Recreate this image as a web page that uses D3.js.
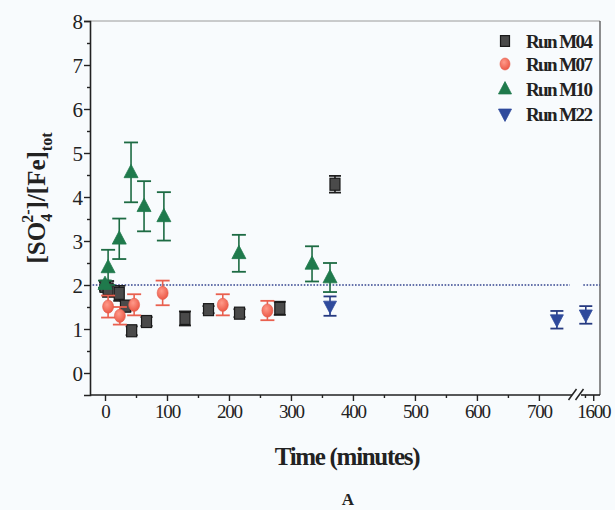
<!DOCTYPE html>
<html><head><meta charset="utf-8">
<script src="https://cdn.jsdelivr.net/npm/d3@7"></script>
<style>
html,body{margin:0;padding:0;background:#f8fbfd;}
svg{display:block;}
text{font-family:"Liberation Serif","DejaVu Serif",serif;fill:#222;}
</style></head>
<body>
<svg id="chart" width="615" height="510"></svg>
<script>
// ---- data ----
const m04Time = [0, 5, 23, 33, 43, 67, 129, 167, 217, 282, 371];
const m04Val  = [1.97, 1.91, 1.81, 1.52, 0.96, 1.17, 1.24, 1.44, 1.36, 1.47, 4.29];
const m04Err  = [0.10, 0.18, 0.17, 0.12, 0.10, 0.10, 0.16, 0.08, 0.09, 0.15, 0.19];

const m07Time = [5, 24, 47, 93, 190, 262];
const m07Val  = [1.51, 1.30, 1.55, 1.82, 1.55, 1.42];
const m07Err  = [0.25, 0.20, 0.24, 0.28, 0.24, 0.22];

const m10Time = [0, 5, 23, 42, 63, 95, 216, 334, 363];
const m10Val  = [2.02, 2.40, 3.05, 4.56, 3.79, 3.56, 2.72, 2.48, 2.17];
const m10Err  = [0.08, 0.40, 0.46, 0.68, 0.57, 0.55, 0.42, 0.40, 0.33];

const m22Time = [363, 729, 1555];
const m22Val  = [1.52, 1.21, 1.32];
const m22Err  = [0.22, 0.20, 0.20];

const seriesNames = ["Run M04", "Run M07", "Run M10", "Run M22"];
const refValue = 2;
const xMajorTicks = [0, 100, 200, 300, 400, 500, 600, 700, 1600];
const xMinorTicks = [50, 150, 250, 350, 450, 550, 650, 1550];
const yMajorTicks = [0, 1, 2, 3, 4, 5, 6, 7, 8];
const yMinorTicks = [0.5, 1.5, 2.5, 3.5, 4.5, 5.5, 6.5, 7.5];
const xTitle = "Time (minutes)";
const panelLabel = "A";

// ---- layout ----
const svg = d3.select("#chart");
const L = 90, R = 600, T = 21, B = 395;
const breakT = 755, resumeT = 1520;
const x = d3.scaleLinear().domain([-24.2, breakT, resumeT, 1641]).range([L, 573, 580, R]);
const y = d3.scaleLinear().domain([-0.5, 8]).range([B, T]);

// frame
svg.append("line").attr("x1", L).attr("x2", R).attr("y1", T).attr("y2", T).attr("stroke", "#9a9a9a").attr("stroke-width", 1);
svg.append("line").attr("x1", R).attr("x2", R).attr("y1", T).attr("y2", B).attr("stroke", "#444").attr("stroke-width", 1.2);

// reference dotted line
const refSegs = [[-20, 750], [1540, 1641]];
svg.selectAll("line.ref").data(refSegs).enter().append("line")
  .attr("x1", d => x(d[0])).attr("x2", d => x(d[1]))
  .attr("y1", y(refValue)).attr("y2", y(refValue))
  .attr("stroke", "#34458f").attr("stroke-width", 1.6).attr("stroke-dasharray", "1.6,1.6");

// y axis
const yAxisG = svg.append("g").attr("transform", `translate(${L},0)`);
yAxisG.call(d3.axisLeft(y).tickValues(yMajorTicks).tickSize(6).tickFormat(d3.format("d")));
yAxisG.append("g").call(d3.axisLeft(y).tickValues(yMinorTicks).tickSize(3).tickFormat(""));
yAxisG.selectAll(".domain").attr("stroke", "#222").attr("stroke-width", 1.6);
yAxisG.selectAll(".tick line").attr("stroke", "#222").attr("stroke-width", 1.4);
yAxisG.selectAll("path.domain").filter((d,i,n)=>i>0).remove();
yAxisG.selectAll(".tick text").style("font-size", "21px").attr("x", -7).attr("dy", "0.34em").style("fill", "#222");

// x axis (two segments with break)
const xAxisG = svg.append("g").attr("transform", `translate(0,${B})`);
xAxisG.call(d3.axisBottom(x).tickValues(xMajorTicks).tickSize(6).tickSizeOuter(0).tickFormat(d3.format("d")));
xAxisG.append("g").call(d3.axisBottom(x).tickValues(xMinorTicks).tickSize(3).tickFormat(""));
xAxisG.selectAll("path.domain").remove();
xAxisG.selectAll(".tick line").attr("stroke", "#222").attr("stroke-width", 1.4);
xAxisG.selectAll(".tick text").style("font-size", "19px").style("letter-spacing", "-1.2px").attr("y", 10).style("fill", "#222");
xAxisG.append("line").attr("x1", L).attr("x2", x(breakT) - 1).attr("y1", 0).attr("y2", 0).attr("stroke", "#222").attr("stroke-width", 1.6);
xAxisG.append("line").attr("x1", x(resumeT) + 1).attr("x2", R).attr("y1", 0).attr("y2", 0).attr("stroke", "#222").attr("stroke-width", 1.6);
// break marks
const bx = (x(breakT) + x(resumeT)) / 2;
[-4, 3].forEach(o => {
  xAxisG.append("line").attr("x1", bx + o - 4).attr("y1", 5).attr("x2", bx + o + 4).attr("y2", -6)
    .attr("stroke", "#222").attr("stroke-width", 1.5);
});

// ---- series ----
function errBars(times, vals, errs, color, capW) {
  const g = svg.append("g");
  times.forEach((t, i) => {
    const cx = x(t), y1 = y(vals[i] + errs[i]), y0 = y(vals[i] - errs[i]);
    g.append("line").attr("x1", cx).attr("x2", cx).attr("y1", y1).attr("y2", y0).attr("stroke", color).attr("stroke-width", 1.6);
    [y1, y0].forEach(yy => g.append("line").attr("x1", cx - capW/2).attr("x2", cx + capW/2).attr("y1", yy).attr("y2", yy).attr("stroke", color).attr("stroke-width", 1.8));
  });
}
const defs = svg.append("defs");
const rg = defs.append("radialGradient").attr("id", "redg").attr("cx", "40%").attr("cy", "35%").attr("r", "65%");
rg.append("stop").attr("offset", "0%").attr("stop-color", "#ff9a8a");
rg.append("stop").attr("offset", "100%").attr("stop-color", "#ec5a48");

function square(g, cx, cy, s) {
  g.append("rect").attr("x", cx - s/2).attr("y", cy - s*0.6).attr("width", s).attr("height", s*1.2)
    .attr("fill", "#4a4a4a").attr("stroke", "#1a1a1a").attr("stroke-width", 1.2);
}
function circ(g, cx, cy, r) {
  g.append("ellipse").attr("cx", cx).attr("cy", cy).attr("rx", r).attr("ry", r*1.2).attr("fill", "url(#redg)").attr("stroke", "#e25a4a").attr("stroke-width", 0.6);
}
function tri(g, cx, cy, s, up, fill) {
  const h = s * 0.95;
  const pts = up ? [[cx, cy - h*0.6], [cx - s/2, cy + h*0.4], [cx + s/2, cy + h*0.4]]
                 : [[cx, cy + h*0.6], [cx - s/2, cy - h*0.4], [cx + s/2, cy - h*0.4]];
  g.append("polygon").attr("points", pts.map(p => p.join(",")).join(" ")).attr("fill", fill).attr("stroke", fill).attr("stroke-width", 0.8);
}

errBars(m04Time, m04Val, m04Err, "#1e1e1e", 12);
const g04 = svg.append("g");
m04Time.forEach((t, i) => square(g04, x(t), y(m04Val[i]), 10));

errBars(m07Time, m07Val, m07Err, "#e9604f", 14);
const g07 = svg.append("g");
m07Time.forEach((t, i) => circ(g07, x(t), y(m07Val[i]), 5.5));

errBars(m22Time, m22Val, m22Err, "#263a80", 13);
const g22 = svg.append("g");
m22Time.forEach((t, i) => tri(g22, x(t), y(m22Val[i]), 13, false, "#2f4a9c"));

errBars(m10Time, m10Val, m10Err, "#1d6b43", 14);
const g10 = svg.append("g");
m10Time.forEach((t, i) => tri(g10, x(t), y(m10Val[i]), 14, true, "#1f7a4c"));

// ---- legend ----
const lg = svg.append("g");
const legY = [41, 64, 89, 114];
const lx = 505;
square(lg, lx, legY[0], 9);
circ(lg, lx, legY[1], 5);
tri(lg, lx, legY[2], 13, true, "#1f7a4c");
tri(lg, lx, legY[3], 13, false, "#2f4a9c");
seriesNames.forEach((n, i) => {
  lg.append("text").attr("x", 526).attr("y", legY[i]).attr("dy", "0.35em")
    .style("font-size", "19px").style("font-weight", "bold").style("letter-spacing", "-1.6px").text(n);
});

// ---- titles ----
svg.append("text").attr("x", 347).attr("y", 465).attr("text-anchor", "middle")
  .style("font-size", "25px").style("font-weight", "bold").style("letter-spacing", "-1.3px").text(xTitle);
svg.append("text").attr("x", 348).attr("y", 505).attr("text-anchor", "middle")
  .style("font-size", "17px").style("font-weight", "bold").text(panelLabel);

const yt = svg.append("text").attr("transform", "translate(45,198) rotate(-90)").attr("text-anchor", "middle")
  .style("font-size", "25px").style("font-weight", "bold");
yt.append("tspan").text("[SO");
yt.append("tspan").attr("dy", 7).style("font-size", "16px").text("4");
yt.append("tspan").attr("dx", -9).attr("dy", -19).style("font-size", "16px").text("2-");
yt.append("tspan").attr("dy", 12).text("]/[Fe]");
yt.append("tspan").attr("dy", 7).style("font-size", "16px").text("tot");
</script>
</body></html>
